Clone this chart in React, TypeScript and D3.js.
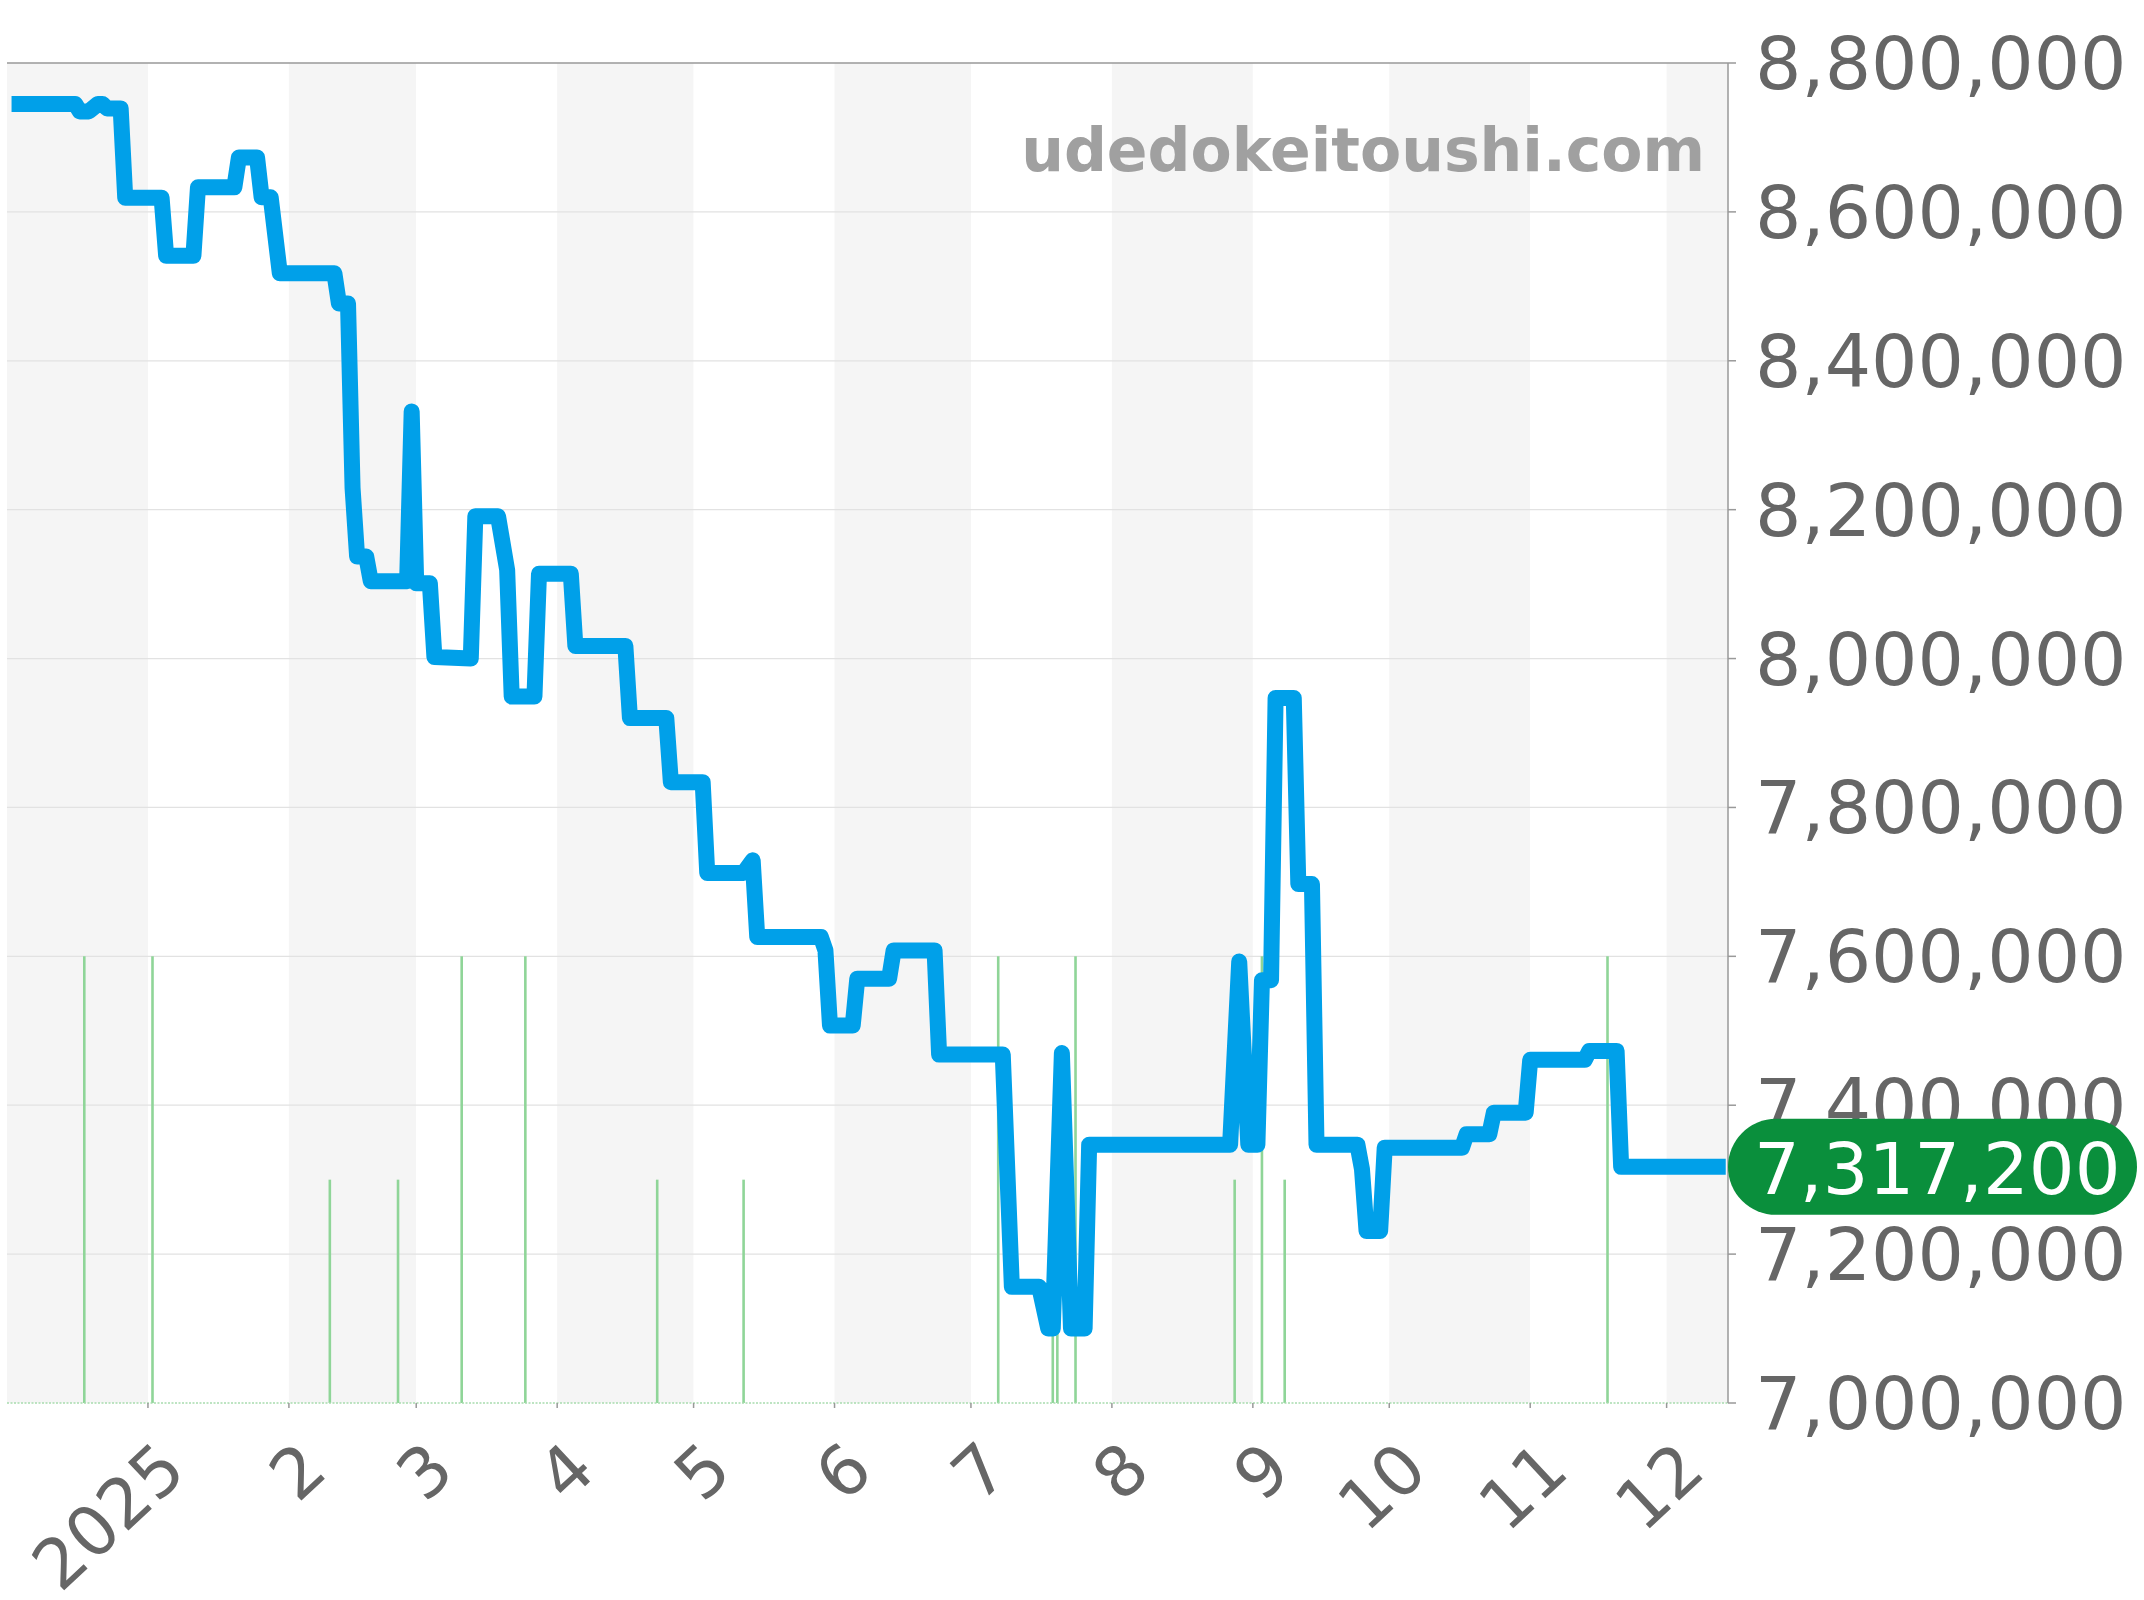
import React from "react";
import * as d3 from "d3";

// ---- data ----
const priceDates = [
  "2024-12-02", "2024-12-16", "2024-12-17", "2024-12-19", "2024-12-21", "2024-12-22", "2024-12-23", "2024-12-26",
  "2024-12-27", "2025-01-04", "2025-01-05", "2025-01-11", "2025-01-12", "2025-01-20", "2025-01-21", "2025-01-25",
  "2025-01-26", "2025-01-28", "2025-01-30", "2025-02-11", "2025-02-12", "2025-02-14", "2025-02-15", "2025-02-16",
  "2025-02-18", "2025-02-19", "2025-02-27", "2025-02-28", "2025-03-01", "2025-03-04", "2025-03-05", "2025-03-13",
  "2025-03-14", "2025-03-19", "2025-03-21", "2025-03-22", "2025-03-27", "2025-03-28", "2025-04-04", "2025-04-05",
  "2025-04-16", "2025-04-17", "2025-04-25", "2025-04-26", "2025-05-03", "2025-05-04", "2025-05-12", "2025-05-14",
  "2025-05-15", "2025-05-29", "2025-05-30", "2025-05-31", "2025-06-05", "2025-06-06", "2025-06-13", "2025-06-14",
  "2025-06-23", "2025-06-24", "2025-07-08", "2025-07-10", "2025-07-16", "2025-07-18", "2025-07-19", "2025-07-21",
  "2025-07-23", "2025-07-26", "2025-07-27", "2025-08-27", "2025-08-29", "2025-08-31", "2025-09-02", "2025-09-03",
  "2025-09-05", "2025-09-06", "2025-09-10", "2025-09-11", "2025-09-14", "2025-09-15", "2025-09-24", "2025-09-25",
  "2025-09-26", "2025-09-29", "2025-09-30", "2025-10-17", "2025-10-18", "2025-10-23", "2025-10-24", "2025-10-31",
  "2025-11-01", "2025-11-13", "2025-11-14", "2025-11-20", "2025-11-21", "2025-12-14",
];
const priceValues = [
  8745000, 8745000, 8735000, 8735000, 8745000, 8745000, 8739000, 8739000,
  8619000, 8619000, 8541000, 8541000, 8633000, 8633000, 8673000, 8673000,
  8619500, 8619500, 8517500, 8517500, 8477000, 8477000, 8229000, 8137000,
  8137000, 8104000, 8104000, 8332000, 8101000, 8101000, 8002000, 8000000,
  8191000, 8191000, 8119000, 7949000, 7949000, 8114000, 8114000, 8017000,
  8017000, 7920000, 7920000, 7834000, 7834000, 7712000, 7712000, 7729000,
  7626000, 7626000, 7608000, 7507000, 7507000, 7570000, 7570000, 7608000,
  7608000, 7468000, 7468000, 7156000, 7156000, 7100000, 7100000, 7470000,
  7100000, 7100000, 7347000, 7347000, 7593000, 7347000, 7347000, 7568000,
  7568000, 7947000, 7947000, 7697000, 7697000, 7347000, 7347000, 7314000,
  7231000, 7231000, 7343000, 7343000, 7361000, 7361000, 7390000, 7390000,
  7461000, 7461000, 7473000, 7473000, 7317200, 7317200,
];

const volumeDates = [
  "2024-12-18", "2025-01-02", "2025-02-10", "2025-02-25", "2025-03-11", "2025-03-25", "2025-04-23", "2025-05-12",
  "2025-07-07", "2025-07-19", "2025-07-20", "2025-07-24", "2025-08-28", "2025-09-03", "2025-09-08", "2025-11-18",
];
const volumeCounts = [2, 2, 1, 1, 2, 2, 1, 1, 2, 1, 1, 2, 1, 2, 1, 2];

const monthTickDates = [
  "2025-01-01", "2025-02-01", "2025-03-01", "2025-04-01", "2025-05-01", "2025-06-01",
  "2025-07-01", "2025-08-01", "2025-09-01", "2025-10-01", "2025-11-01", "2025-12-01",
];
const monthTickLabels = ["2025", "2", "3", "4", "5", "6", "7", "8", "9", "10", "11", "12"];

const bandStartDates = [
  "2024-12-01", "2025-01-01", "2025-02-01", "2025-03-01", "2025-04-01", "2025-05-01", "2025-06-01",
  "2025-07-01", "2025-08-01", "2025-09-01", "2025-10-01", "2025-11-01", "2025-12-01",
];

const yTickValues = [7000000, 7200000, 7400000, 7600000, 7800000, 8000000, 8200000, 8400000, 8600000, 8800000];
const lastPrice = 7317200;
const watermark = "udedokeitoushi.com";

// ---- layout ----
const W = 2144;
const H = 1600;
const left = 7;
const right = 1728;
const top = 63;
const bottom = 1403;
const FONT = "'DejaVu Sans', Verdana, sans-serif";

export default function App() {
  const parse = d3.timeParse("%Y-%m-%d");
  const domainStart = new Date(2024, 11, 1);
  const domainEnd = new Date(2025, 11, 14, 12);
  const x = d3.scaleTime().domain([domainStart, domainEnd]).range([left, right]);
  const y = d3.scaleLinear().domain([7000000, 8800000]).range([bottom, top]);
  const yVol = d3.scaleLinear().domain([0, 6]).range([bottom, top]);
  const fmt = d3.format(",");

  const pts = priceDates.map((d, i) => [parse(d) as Date, priceValues[i]] as [Date, number]);
  const line = d3
    .line<[Date, number]>()
    .x((d) => x(d[0]))
    .y((d) => y(d[1]))
    .curve(d3.curveLinear);

  const bandStarts = bandStartDates.map((d) => parse(d) as Date);
  const bands = bandStarts.map((d, i) => {
    const x0 = Math.max(left, x(d));
    const x1 = i + 1 < bandStarts.length ? x(bandStarts[i + 1]) : right;
    return { x0, x1: Math.min(right, x1), gray: i % 2 === 0 };
  });

  const pillH = 96;
  const pillW = 409;
  const pillCy = y(lastPrice);

  return (
    <div style={{ position: "fixed", left: 0, top: 0, width: W, height: H, background: "#fff" }}>
      <svg width={W} height={H} style={{ display: "block" }} fontFamily={FONT}>
        <rect x={0} y={0} width={W} height={H} fill="#ffffff" />
        {bands.map((b, i) => (
          <rect key={"b" + i} x={b.x0} y={top} width={b.x1 - b.x0} height={bottom - top} fill={b.gray ? "#f5f5f5" : "#ffffff"} />
        ))}
        {yTickValues.slice(1, -1).map((v) => (
          <line key={"g" + v} x1={left} x2={right} y1={y(v)} y2={y(v)} stroke="#e2e2e2" strokeWidth={1.2} />
        ))}
        {volumeDates.map((d, i) => {
          const xx = x(parse(d) as Date);
          return (
            <line key={"v" + i} x1={xx} x2={xx} y1={bottom} y2={yVol(volumeCounts[i])} stroke="#8fd598" strokeWidth={2.6} />
          );
        })}
        <line x1={left} x2={right} y1={bottom} y2={bottom} stroke="#a8dcae" strokeWidth={1.5} strokeDasharray="2,1.5" />
        <path d={line(pts) || ""} fill="none" stroke="#00a0e9" strokeWidth={16} strokeLinejoin="round" strokeLinecap="butt" />
        {/* top border */}
        <line x1={left} x2={right} y1={top} y2={top} stroke="#999" strokeWidth={1.5} />
        {/* right axis */}
        <line x1={right} x2={right} y1={top} y2={bottom} stroke="#999" strokeWidth={1.5} />
        {yTickValues.map((v) => (
          <line key={"yt" + v} x1={right} x2={right + 8} y1={y(v)} y2={y(v)} stroke="#999" strokeWidth={1.5} />
        ))}
        {yTickValues.map((v) => (
          <text key={"yl" + v} x={1755} y={y(v) + 26} fontSize={73} fill="#666666">
            {fmt(v)}
          </text>
        ))}
        {/* x ticks */}
        {monthTickDates.map((d, i) => {
          const xx = x(parse(d) as Date);
          return (
            <g key={"xt" + i}>
              <line x1={xx} x2={xx} y1={bottom} y2={bottom + 5} stroke="#999" strokeWidth={1.5} />
              <text
                transform={`translate(${xx + 41},${bottom + 71}) rotate(-43)`}
                textAnchor="end"
                fontSize={69}
                fill="#666666"
              >
                {monthTickLabels[i]}
              </text>
            </g>
          );
        })}
        {/* watermark */}
        <text x={1705} y={171} textAnchor="end" fontSize={60} fontWeight="bold" fill="#a0a0a0">
          {watermark}
        </text>
        {/* last price pill */}
        <rect x={right} y={pillCy - pillH / 2} width={pillW} height={pillH} rx={pillH / 2} ry={pillH / 2} fill="#0a8f3c" />
        <text x={1754} y={pillCy + 27} fontSize={72} fill="#ffffff">
          {fmt(lastPrice)}
        </text>
      </svg>
    </div>
  );
}
